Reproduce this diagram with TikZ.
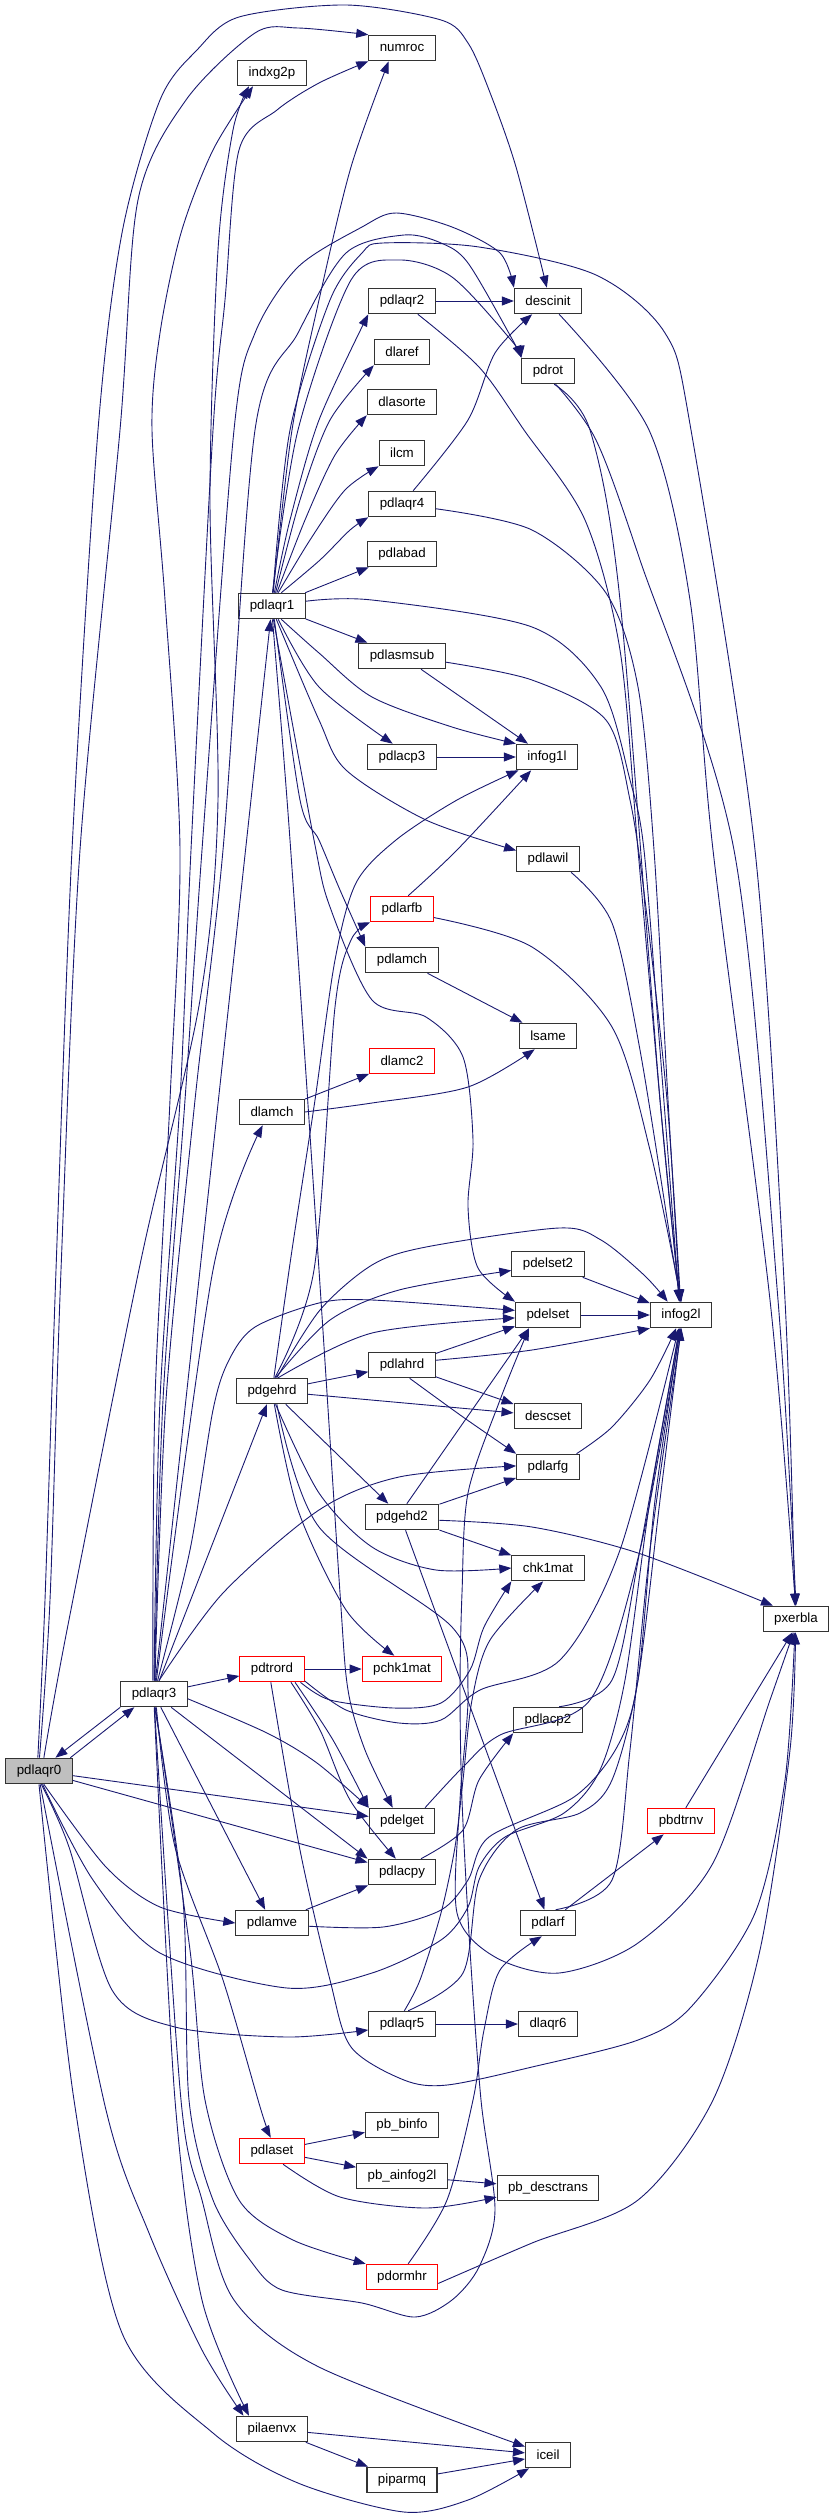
\documentclass[tikz,border=0pt]{standalone}
\usepackage{fontspec}
\setmainfont{Liberation Sans}
\usepackage{xcolor}
\usetikzlibrary{arrows.meta}
\definecolor{callblue}{HTML}{191970}
\definecolor{rootgray}{HTML}{BFBFBF}

\begin{document}
\begin{tikzpicture}[x=1pt,y=-1pt,>={Triangle[length=12pt,width=9pt]},
  fn/.style={draw=black!80,line width=1.1pt,fill=white,minimum height=25.5pt,inner xsep=11pt,inner ysep=0pt,font=\fontsize{13.3}{15}\selectfont},
  fnred/.style={fn,draw=red},
  fnroot/.style={fn,fill=rootgray},
  call/.style={->,callblue,line width=0.9pt}]
  \useasboundingbox (0,0) rectangle (829,2518);
  % Noder
  \node[fnroot] (pdlaqr0) at (39,1771) {pdlaqr0};
  \node[fn] (pdlaqr3) at (154,1694) {pdlaqr3};
  \node[fn] (indxg2p) at (272,73) {indxg2p};
  \node[fn] (pdlaqr1) at (272,606) {pdlaqr1};
  \node[fn] (dlamch) at (272,1112) {dlamch};
  \node[fn] (pdgehrd) at (272,1391) {pdgehrd};
  \node[fnred] (pdtrord) at (272,1669) {pdtrord};
  \node[fn] (pdlamve) at (272,1923) {pdlamve};
  \node[fnred] (pdlaset) at (272,2151) {pdlaset};
  \node[fn] (pilaenvx) at (272,2429) {pilaenvx};
  \node[fn] (numroc) at (402,48) {numroc};
  \node[fn] (pdlaqr2) at (402,301) {pdlaqr2};
  \node[fn] (dlaref) at (402,352) {dlaref};
  \node[fn] (dlasorte) at (402,402) {dlasorte};
  \node[fn] (ilcm) at (402,453) {ilcm};
  \node[fn] (pdlaqr4) at (402,504) {pdlaqr4};
  \node[fn] (pdlabad) at (402,554) {pdlabad};
  \node[fn] (pdlasmsub) at (402,656) {pdlasmsub};
  \node[fn] (pdlacp3) at (402,757) {pdlacp3};
  \node[fnred] (pdlarfb) at (402,909) {pdlarfb};
  \node[fn] (pdlamch) at (402,960) {pdlamch};
  \node[fnred] (dlamc2) at (402,1061) {dlamc2};
  \node[fn] (pdlahrd) at (402,1365) {pdlahrd};
  \node[fn] (pdgehd2) at (402,1517) {pdgehd2};
  \node[fnred] (pchk1mat) at (402,1669) {pchk1mat};
  \node[fn] (pdelget) at (402,1821) {pdelget};
  \node[fn] (pdlacpy) at (402,1872) {pdlacpy};
  \node[fn] (pdlaqr5) at (402,2024) {pdlaqr5};
  \node[fn] (pbbinfo) at (402,2125) {pb\_binfo};
  \node[fn] (pbainfog2l) at (402,2176) {pb\_ainfog2l};
  \node[fnred] (pdormhr) at (402,2277) {pdormhr};
  \node[fn] (piparmq) at (402,2480) {piparmq};
  \node[fn] (descinit) at (548,301) {descinit};
  \node[fn] (pdrot) at (548,371) {pdrot};
  \node[fn] (infog1l) at (547,757) {infog1l};
  \node[fn] (pdlawil) at (548,859) {pdlawil};
  \node[fn] (lsame) at (548,1036) {lsame};
  \node[fn] (pdelset2) at (548,1264) {pdelset2};
  \node[fn] (pdelset) at (548,1315) {pdelset};
  \node[fn] (descset) at (548,1416) {descset};
  \node[fn] (pdlarfg) at (548,1467) {pdlarfg};
  \node[fn] (chk1mat) at (548,1568) {chk1mat};
  \node[fn] (pdlacp2) at (548,1720) {pdlacp2};
  \node[fn] (pdlarf) at (548,1923) {pdlarf};
  \node[fn] (dlaqr6) at (548,2024) {dlaqr6};
  \node[fn] (pbdesctrans) at (548,2188) {pb\_desctrans};
  \node[fn] (iceil) at (548,2455) {iceil};
  \node[fn] (infog2l) at (681,1315) {infog2l};
  \node[fnred] (pbdtrnv) at (681,1821) {pbdtrnv};
  \node[fn] (pxerbla) at (796,1619) {pxerbla};

  % Kall fra pdlaqr0
  \draw[call] (pdlaqr0.23) -- (pdlaqr3.214);
  \draw[call] plot[smooth] coordinates {(pdlaqr0.95) (45,1600) (56,1270) (72,850) (98,430) (122,233) (160,100) (197,50) (239,17) (346,5) (441,20) (468,43) (489,90) (516,167) (descinit.95)};
  \draw[call] plot[smooth] coordinates {(pdlaqr0.88) (50,1600) (61,1270) (80,850) (120,430) (138,200) (186,100) (255,33) (298,28) (numroc.north west)};
  \draw[call] plot[smooth] coordinates {(pdlaqr0.70) (67,1630) (141,1260) (200,1000) (218,800) (210,500) (218,250) (233,130) (indxg2p.210)};
  \draw[call] (pdlaqr0) -- (pdelget);
  \draw[call] (pdlaqr0) -- (pdlacpy);
  \draw[call] plot[smooth] coordinates {(pdlaqr0.-70) (106,1867) (160,1907) (pdlamve.west)};
  \draw[call] plot[smooth] coordinates {(pdlaqr0.-75) (93,1880) (160,1953) (287,1988) (372,1973) (441,1940) (468,1907) (479,1867) (505,1837) (564,1813) (600,1770) (625,1680) (650,1500) (infog2l.-95)};
  \draw[call] plot[smooth] coordinates {(pdlaqr0.-80) (69,1847) (112,1990) (175,2027) (287,2037) (pdlaqr5.190)};
  \draw[call] plot[smooth] coordinates {(pdlaqr0.-85) (106,2110) (149,2233) (202,2350) (pilaenvx.155)};
  \draw[call] plot[smooth] coordinates {(pdlaqr0.-90) (74,2100) (122,2333) (213,2433) (298,2483) (404,2512) (468,2500) (iceil.215)};

  % Kall fra pdlaqr3
  \draw[call] (pdlaqr3.south west) -- (pdlaqr0.39);
  \draw[call] (pdlaqr3) -- (pdtrord);
  \draw[call] plot[smooth] coordinates {(pdlaqr3.-8) (267,1733) (317,1763) (pdelget.north west)};
  \draw[call] (pdlaqr3) -- (pdlacpy.north west);
  \draw[call] (pdlaqr3) -- (pdlamve);
  \draw[call] plot[smooth] coordinates {(pdlaqr3.-80) (175,1847) (223,1980) (261,2110) (pdlaset.95)};
  \draw[call] plot[smooth] coordinates {(pdlaqr3.-84) (190,1950) (205,2100) (239,2200) (293,2240) (pdormhr.160)};
  \draw[call] plot[smooth] coordinates {(pdlaqr3.-87) (183,1900) (189,2100) (213,2200) (250,2260) (282,2290) (362,2303) (415,2317) (452,2300) (479,2267) (495,2210) (481,2100) (470,1950) (462,1800) (460,1690) (462,1593) (468,1493) (500,1400) (pdelset.-145)};
  \draw[call] plot[smooth] coordinates {(pdlaqr3.-88) (181,2100) (202,2200) (234,2300) (319,2367) (iceil.160)};
  \draw[call] plot[smooth] coordinates {(pdlaqr3.-89) (175,2100) (202,2300) (pilaenvx.150)};
  \draw[call] (pdlaqr3) -- (pdgehrd);
  \draw[call] plot[smooth] coordinates {(pdlaqr3.70) (223,1593) (319,1510) (399,1477) (pdlarfg.178)};
  \draw[call] plot[smooth] coordinates {(pdlaqr3.80) (213,1270) (dlamch.235)};
  \draw[call] (pdlaqr3) -- (pdlaqr1);
  \draw[call] plot[smooth] coordinates {(pdlaqr3.75) (190,1550) (213,1410) (229,1360) (255,1327) (319,1303) (372,1300) (pdelset.172)};
  \draw[call] plot[smooth] coordinates {(pdlaqr3.95) (155,1400) (170,1100) (180,850) (165,600) (152,430) (160,333) (181,233) (213,150) (indxg2p.215)};
  \draw[call] plot[smooth] coordinates {(pdlaqr3.90) (160,1400) (180,1100) (191,850) (213,430) (225,300) (239,150) (277,110) (319,83) (numroc.south west)};
  \draw[call] plot[smooth] coordinates {(pdlaqr3.88) (163,1400) (185,1100) (202,850) (234,430) (255,333) (298,267) (362,227) (396,213) (452,227) (500,253) (descinit.north west)};
  \draw[call] plot[smooth] coordinates {(pdlaqr3.86) (166,1400) (195,1100) (223,850) (255,430) (298,333) (346,253) (404,235) (441,243) (468,263) (511,337) (pdrot.north west)};

  % Kall fra pdlaqr1
  \draw[call] plot[smooth] coordinates {(pdlaqr1.80) (290,520) (319,420) (pdlaqr2.south west)};
  \draw[call] plot[smooth] coordinates {(pdlaqr1.75) (300,500) (330,420) (dlaref.south west)};
  \draw[call] plot[smooth] coordinates {(pdlaqr1.70) (305,520) (335,455) (dlasorte.south west)};
  \draw[call] plot[smooth] coordinates {(pdlaqr1.65) (310,540) (345,490) (ilcm.south west)};
  \draw[call] plot[smooth] coordinates {(pdlaqr1.55) (320,560) (350,530) (pdlaqr4.south west)};
  \draw[call] (pdlaqr1) -- (pdlabad);
  \draw[call] (pdlaqr1) -- (pdlasmsub);
  \draw[call] plot[smooth] coordinates {(pdlaqr1.-65) (319,687) (pdlacp3.125)};
  \draw[call] plot[smooth] coordinates {(pdlaqr1.-55) (319,653) (372,697) (452,727) (infog1l.north west)};
  \draw[call] plot[smooth] coordinates {(pdlaqr1.-72) (319,720) (346,770) (426,820) (pdlawil.165)};
  \draw[call] plot[smooth] coordinates {(pdlaqr1.-80) (300,800) (319,840) (340,890) (pdlamch.north west)};
  \draw[call] plot[smooth] coordinates {(pdlaqr1.-84) (314,840) (330,907) (372,1000) (426,1017) (463,1057) (473,1140) (468,1207) (478,1268) (pdelset.north west)};
  \draw[call] plot[smooth] coordinates {(pdlaqr1.-88) (290,840) (319,1270) (340,1593) (348,1690) (365,1750) (pdelget.125)};
  \draw[call] plot[smooth] coordinates {(pdlaqr1.8) (372,600) (532,627) (601,687) (630,780) (644,850) (660,1050) (infog2l.98)};
  \draw[call] plot[smooth] coordinates {(pdlaqr1.85) (292,430) (319,300) (351,167) (numroc.225)};
  \draw[call] plot[smooth] coordinates {(pdlaqr1.88) (298,430) (351,280) (399,260) (452,277) (511,340) (pdrot.north west)};
  \draw[call] plot[smooth] coordinates {(pdlaqr1.86) (290,430) (330,300) (362,253) (383,243) (479,247) (596,275) (665,333) (691,430) (755,850) (785,1300) (pxerbla.95)};

  % Kall til infog1l, infog2l og pxerbla
  \draw[call] (pdlaqr2) -- (descinit);
  \draw[call] plot[smooth] coordinates {(pdlaqr2.-40) (479,367) (524,430) (585,520) (620,650) (638,850) (660,1100) (infog2l.96)};
  \draw[call] plot[smooth] coordinates {(pdlaqr4.50) (468,420) (495,353) (descinit.220)};
  \draw[call] plot[smooth] coordinates {(pdlaqr4.-8) (532,530) (606,593) (638,687) (654,850) (668,1100) (infog2l.94)};
  \draw[call] (pdlasmsub) -- (infog1l);
  \draw[call] plot[smooth] coordinates {(pdlasmsub.-8) (532,680) (606,720) (630,800) (645,900) (667,1100) (infog2l.92)};
  \draw[call] (pdlacp3) -- (infog1l);
  \draw[call] plot[smooth] coordinates {(pdlawil.-30) (612,923) (640,1050) (672,1250) (infog2l.90)};
  \draw[call] plot[smooth] coordinates {(pdlarfb.65) (457,850) (infog1l.220)};
  \draw[call] plot[smooth] coordinates {(pdlarfb.-15) (532,947) (612,1027) (650,1150) (infog2l.88)};
  \draw[call] (pdlamch) -- (lsame);
  \draw[call] (dlamch) -- (dlamc2);
  \draw[call] plot[smooth] coordinates {(dlamch.east) (372,1103) (468,1087) (lsame.225)};
  \draw[call] plot[smooth] coordinates {(descinit.-50) (649,430) (690,600) (713,850) (770,1300) (pxerbla.92)};
  \draw[call] plot[smooth] coordinates {(pdrot.-65) (590,430) (620,600) (660,1100) (infog2l.93)};
  \draw[call] plot[smooth] coordinates {(pdrot.-60) (596,440) (640,560) (734,850) (778,1300) (pxerbla.90)};
  \draw[call] (pdelset2) -- (infog2l);
  \draw[call] (pdelset) -- (infog2l);

  % Kall fra pdgehrd
  \draw[call] (pdgehrd) -- (pdlahrd);
  \draw[call] (pdgehrd) -- (descset);
  \draw[call] (pdgehrd) -- (pdgehd2);
  \draw[call] plot[smooth] coordinates {(pdgehrd.-75) (319,1493) (372,1547) (436,1570) (chk1mat.west)};
  \draw[call] plot[smooth] coordinates {(pdgehrd.-80) (298,1510) (346,1610) (pchk1mat.120)};
  \draw[call] plot[smooth] coordinates {(pdgehrd.75) (330,1320) (399,1290) (pdelset2.190)};
  \draw[call] plot[smooth] coordinates {(pdgehrd.65) (372,1333) (pdelset.185)};
  \draw[call] plot[smooth] coordinates {(pdgehrd.82) (292,1250) (315,1100) (335,960) (356,883) (396,840) (457,800) (infog1l.205)};
  \draw[call] plot[smooth] coordinates {(pdgehrd.78) (314,1270) (335,1007) (351,940) (pdlarfb.south west)};
  \draw[call] plot[smooth] coordinates {(pdgehrd.70) (320,1310) (372,1265) (426,1247) (559,1228) (601,1240) (644,1275) (infog2l.135)};
  \draw[call] plot[smooth] coordinates {(pdgehrd.-70) (319,1527) (452,1627) (468,1690) (460,1800) (457,1913) (495,1957) (559,1973) (638,1943) (713,1863) (770,1700) (pxerbla.-100)};
  \draw[call] (pdlahrd) -- (pdelset);
  \draw[call] plot[smooth] coordinates {(pdlahrd.8) (532,1350) (infog2l.south west)};
  \draw[call] (pdlahrd) -- (descset);
  \draw[call] plot[smooth] coordinates {(pdlahrd.-60) (463,1417) (pdlarfg.north west)};
  \draw[call] (pdgehd2.70) -- (pdelset.-145);
  \draw[call] (pdgehd2) -- (pdlarfg);
  \draw[call] plot[smooth] coordinates {(pdgehd2.-5) (532,1527) (638,1553) (pxerbla.150)};
  \draw[call] (pdgehd2) -- (chk1mat);
  \draw[call] (pdgehd2.-75) -- (pdlarf.105);
  \draw[call] plot[smooth] coordinates {(pdlarfg.25) (612,1427) (650,1380) (infog2l.-110)};

  % Kall fra pdtrord
  \draw[call] (pdtrord) -- (pchk1mat);
  \draw[call] plot[smooth] coordinates {(pdtrord.-30) (333,1740) (pdelget.north west)};
  \draw[call] plot[smooth] coordinates {(pdtrord.-35) (320,1730) (350,1800) (pdlacpy.115)};
  \draw[call] plot[smooth] coordinates {(pdtrord.-25) (330,1700) (394,1708) (441,1703) (470,1670) (484,1627) (chk1mat.south west)};
  \draw[call] plot[smooth] coordinates {(pdtrord.-20) (346,1710) (399,1723) (441,1720) (480,1690) (560,1660) (620,1550) (infog2l.-100)};
  \draw[call] plot[smooth] coordinates {(pdtrord.-95) (300,1850) (330,1980) (351,2047) (404,2080) (447,2085) (532,2067) (638,2040) (691,2007) (755,1913) (785,1780) (pxerbla.-95)};

  % Resten
  \draw[call] plot[smooth] coordinates {(pdelget.30) (463,1767) (500,1735) (590,1700) (640,1550) (infog2l.-92)};
  \draw[call] plot[smooth] coordinates {(pdlacpy.35) (463,1830) (479,1780) (pdlacp2.south west)};
  \draw[call] plot[smooth] coordinates {(pdlacp2.50) (612,1680) (640,1550) (infog2l.-97)};
  \draw[call] (pdlamve) -- (pdlacpy);
  \draw[call] plot[smooth] coordinates {(pdlamve.-5) (383,1927) (441,1910) (468,1880) (489,1837) (574,1797) (617,1747) (638,1680) (655,1500) (infog2l.-93)};
  \draw[call] (pdlaqr5) -- (dlaqr6);
  \draw[call] plot[smooth] coordinates {(pdlaqr5.80) (420,1980) (441,1913) (455,1847) (463,1780) (472,1700) (490,1640) (chk1mat.-110)};
  \draw[call] plot[smooth] coordinates {(pdlaqr5.65) (463,1973) (479,1880) (516,1830) (580,1813) (612,1780) (638,1680) (660,1500) (infog2l.-90)};
  \draw[call] (pdlarf) -- (pbdtrnv);
  \draw[call] plot[smooth] coordinates {(pdlarf.60) (612,1880) (630,1750) (650,1550) (infog2l.-88)};
  \draw[call] (pbdtrnv.70) -- (pxerbla.-105);
  \draw[call] plot[smooth] coordinates {(pdormhr.65) (447,2200) (473,2100) (484,2030) (500,1970) (pdlarf.-115)};
  \draw[call] plot[smooth] coordinates {(pdormhr.-10) (532,2243) (638,2200) (713,2100) (760,1950) (790,1750) (pxerbla.-92)};
  \draw[call] (pdlaset) -- (pbbinfo);
  \draw[call] (pdlaset) -- (pbainfog2l);
  \draw[call] plot[smooth] coordinates {(pdlaset.-50) (340,2197) (426,2208) (pbdesctrans.190)};
  \draw[call] (pbainfog2l) -- (pbdesctrans);
  \draw[call] (pilaenvx) -- (iceil);
  \draw[call] (pilaenvx) -- (piparmq);
  \draw[call] (piparmq) -- (iceil);
\end{tikzpicture}
\end{document}
